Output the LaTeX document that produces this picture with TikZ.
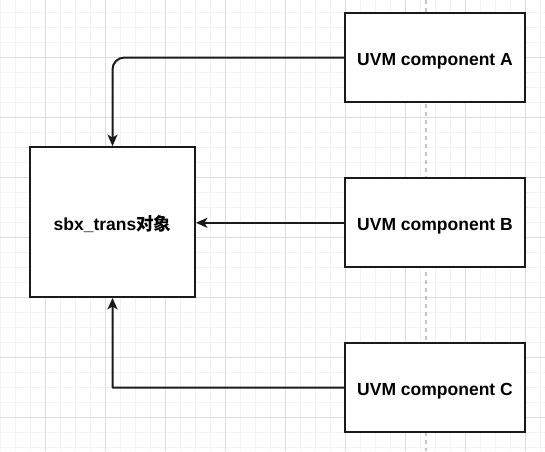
\documentclass[tikz,border=0pt]{standalone}
\usepackage{fontspec}
\setmainfont{Liberation Sans}
\newfontfamily\cjk{Noto Sans CJK SC}
\usetikzlibrary{arrows.meta}
\definecolor{gridminor}{HTML}{F3F3F3}
\definecolor{gridmajor}{HTML}{DDDDDD}
\definecolor{dashgray}{HTML}{C4C4C4}
\definecolor{ink}{HTML}{1A1A1A}
\tikzset{
  boxnode/.style={draw=ink, line width=1.8pt, fill=white, inner sep=0pt,
    text height=16pt, text depth=0pt,
    font=\fontsize{17.5pt}{20pt}\selectfont\bfseries},
  conntip/.tip={Stealth[length=11.5pt, width=10pt, inset=3pt]},
  conn/.style={draw=ink, line width=2pt, line join=miter, rounded corners=0.6pt, -conntip},
}
\begin{document}
\begin{tikzpicture}[x=1pt, y=-1pt]
\useasboundingbox (0,0) rectangle (545,451);
\fill[white] (0,0) rectangle (545,451);
% minor grid
\foreach \x in {0,15,...,540} \draw[gridminor, line width=1pt] (\x,0) -- (\x,451);
\foreach \y in {12,27,...,450} \draw[gridminor, line width=1pt] (0,\y) -- (545,\y);
% major grid
\foreach \x in {45,105,...,525} \draw[gridmajor, line width=1pt] (\x,0) -- (\x,451);
\foreach \y in {57,117,...,450} \draw[gridmajor, line width=1pt] (0,\y) -- (545,\y);
% dashed guide
\draw[dashgray, line width=1.2pt, dash pattern=on 4pt off 4pt] (426,0) -- (426,451);
% nodes
\node[boxnode, minimum width=165pt, minimum height=150pt] (sbx) at (112.5,222) {sbx\_trans{\cjk\bfseries 对象}};
\node[boxnode, minimum width=180pt, minimum height=89pt] (compA) at (435,57.5) {UVM component A};
\node[boxnode, minimum width=180pt, minimum height=89pt] (compB) at (435,222.8) {UVM component B};
\node[boxnode, minimum width=180pt, minimum height=89pt] (compC) at (435,387.5) {UVM component C};
% connectors
\draw[conn, rounded corners=12pt] (compA.west) -| (sbx.north);
\draw[conn, line width=2.3pt] (compB.west) -- (compB.west -| sbx.east);
\draw[conn] (compC.west) -| (sbx.south);
\end{tikzpicture}
\end{document}
